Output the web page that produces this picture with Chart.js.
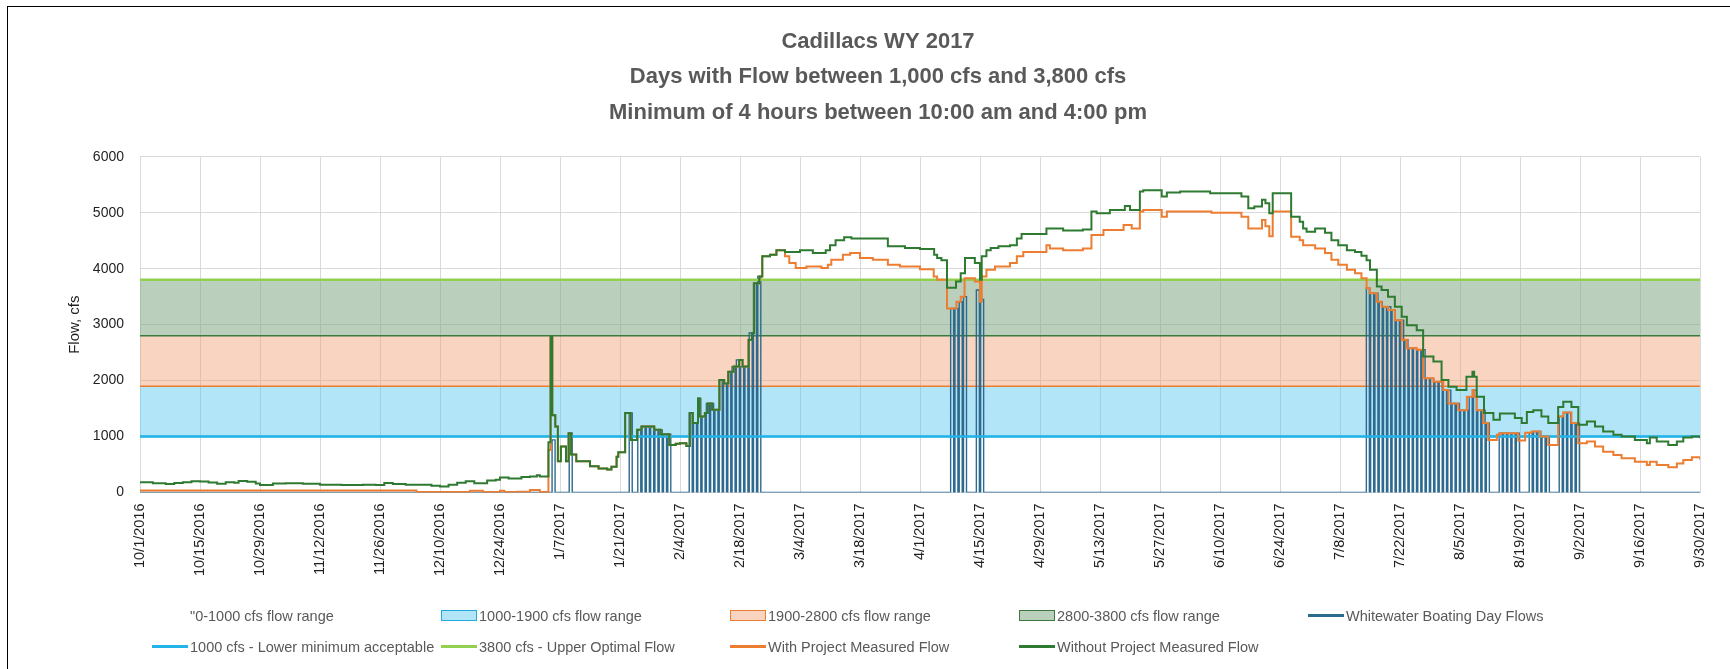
<!DOCTYPE html>
<html>
<head>
<meta charset="utf-8">
<script src="https://cdn.jsdelivr.net/npm/chart.js@4.4.1/dist/chart.umd.min.js"></script>
<style>
  html, body { margin: 0; padding: 0; background: #fff; }
  #wrap { position: relative; width: 1730px; height: 669px; overflow: hidden; }
  #frame { position: absolute; left: 7px; top: 6px; right: -5px; bottom: -5px;
           border-left: 1px solid #000; border-top: 1px solid #000; pointer-events: none; }
  #legend { position: absolute; left: 152px; top: 600px; display: grid;
            grid-template-columns: repeat(5, 289px);
            font: 14.5px 'Liberation Sans', Arial, sans-serif; color: #595959; }
  #legend .item { display: flex; align-items: center; height: 31px; white-space: nowrap; }
  #legend .sw { display: inline-block; width: 36px; margin-right: 2px; box-sizing: border-box; }
  #legend .box { height: 11px; border-width: 1.5px; border-style: solid; }
  #legend .line { height: 3px; }
</style>
</head>
<body>
<div id="wrap">
  <canvas id="flowChart" width="1730" height="669"></canvas>
  <div id="legend"></div>
  <div id="frame"></div>
</div>
<script>
// day 0 = 10/1/2016, last day 364 = 9/30/2017
const START = [2016, 10, 1];
const LAST_DAY = 364;
const TITLE_LINES = [
  'Cadillacs WY 2017',
  'Days with Flow between 1,000 cfs and 3,800 cfs',
  'Minimum of 4 hours between 10:00 am and 4:00 pm'
];

// flow range bands, cfs
const BAND_EDGES = [0, 1000, 1900, 2800, 3800];
const LOWER_MIN = 1000;
const UPPER_OPT = 3800;

// [day, cfs] - value holds until next step
const WITHOUT_PROJECT = [
  [0,185],[3,165],[6,150],[8,170],[10,185],[12,200],[14,195],[16,180],[18,155],[20,185],[22,175],[23,205],
  [25,190],[27,160],[28,135],[31,160],[34,165],[38,155],[42,140],[47,135],[52,140],[55,135],[57,170],[59,150],
  [62,140],[68,120],[70,105],[72,140],[74,175],[76,200],[78,165],[81,215],[83,230],[84,270],[86,250],[89,275],
  [91,285],[92.6,310],[93.3,285],[95.3,900],[95.8,2780],[96.2,1380],[96.9,1180],[97.5,560],[98.2,820],[99.4,560],
  [100,1060],[100.6,680],[101.8,560],[105,470],[107,430],[109,410],[110,460],[111.2,640],[111.6,720],[113.2,1420],
  [114.5,940],[116,1120],[117,1180],[120,1120],[121.5,1040],[123.5,850],[125,870],[126,880],[127.5,830],[128.3,1420],
  [129,1240],[130.2,1680],[130.6,1360],[131.8,1420],[132.5,1590],[133.5,1480],[135.2,2010],[136.3,1950],[137.3,2160],
  [138.5,2250],[139.8,2370],[140.6,2250],[142,2730],[142.8,2850],[143.3,3740],[144.5,3860],[145.2,4220],[147,4250],
  [148.5,4330],[150.5,4300],[154,4330],[157,4280],[160,4330],[161,4420],[162.3,4510],[164.3,4560],[166,4540],
  [174.5,4400],[178.5,4370],[182,4350],[185.3,4250],[186,4190],[187,4150],[188.3,3660],[190.4,3770],[191.5,3920],
  [192.5,4190],[194.8,4100],[196,3800],[196.4,4220],[197.5,4330],[198.5,4370],[200.3,4400],[203,4420],[204.6,4540],
  [205.7,4620],[211.5,4720],[215.4,4680],[220,4700],[222,5020],[223.2,4990],[226.3,5050],[229.8,5120],[231,5050],
  [233.3,5380],[234.1,5400],[238.4,5290],[239.6,5360],[242.7,5380],[249.7,5350],[257,5290],[258.6,5080],[260,5110],
  [261.8,5230],[262.6,5170],[263.5,4990],[264.3,5350],[268.6,4930],[270.6,4840],[271.4,4720],[272.2,4660],
  [274.2,4720],[276.5,4640],[278,4510],[279.6,4420],[281.6,4330],[283.5,4300],[285,4230],[286.2,4150],[287,3980],
  [288.6,3680],[289.7,3620],[291.2,3500],[292.8,3320],[294.4,3140],[295.6,2990],[297.9,2900],[299.4,2430],
  [301.8,2340],[303.7,2010],[305.3,1890],[307.2,1830],[309.5,2070],[310.9,2160],[311.3,2070],[311.9,1710],
  [313.6,1420],[315.8,1300],[317.3,1410],[320.8,1330],[322.4,1240],[323.6,1440],[325.1,1470],[327,1360],
  [328.6,1240],[330.9,1530],[332.1,1620],[334,1530],[335.6,1210],[337.6,1270],[339.5,1180],[341.4,1090],
  [343.8,1030],[345.7,1000],[348.8,940],[351.6,880],[352.3,985],[353.9,910],[356.6,850],[358.6,910],[360.1,985],
  [362.1,1000],[364,970]
];

const WITH_PROJECT = [
  [0,35],[64.5,8],[77,30],[80,8],[84,30],[85,8],[88,15],[91,45],[93.3,8],[95.3,760],[95.8,2780],[96.2,1380],
  [96.9,1180],[97.5,560],[98.2,820],[99.4,560],[100,1060],[100.6,680],[101.8,560],[105,470],[107,430],[109,410],
  [110,460],[111.2,640],[111.6,720],[113.2,1420],[114.5,940],[116,1120],[117,1180],[120,1120],[121.5,1040],
  [123.5,850],[125,870],[126,880],[127.5,830],[128.3,1420],[129,1240],[130.2,1680],[130.6,1360],[131.8,1420],
  [132.5,1590],[133.5,1480],[135.2,2010],[136.3,1950],[137.3,2160],[138.5,2250],[139.8,2370],[140.6,2250],
  [142,2730],[142.8,2850],[143.3,3740],[144.5,3860],[145.2,4220],[147,4250],[148.5,4330],[150.5,4220],
  [151.5,4100],[153,4010],[155.5,4040],[159,4010],[160.5,4070],[161.3,4160],[164,4250],[165.7,4280],[168,4190],
  [171,4160],[174.5,4070],[177.3,4040],[182,3990],[185.2,3860],[186,3800],[188.3,3290],[190.5,3410],[191.5,3500],
  [192.4,3830],[194.8,3770],[196,3410],[196.4,3860],[197.5,3980],[199.5,4040],[203,4100],[204.6,4220],[206.1,4300],
  [211.5,4420],[212.3,4360],[215.4,4330],[220,4360],[222,4600],[224.8,4690],[229.5,4780],[231.4,4720],[233.3,5020],
  [234.1,5050],[238.4,4930],[239.6,5020],[250,5000],[257,4930],[258.6,4720],[261.8,4870],[262.6,4760],[263.5,4580],
  [264.3,5020],[268.6,4570],[270.6,4510],[271.4,4420],[274.2,4360],[276.5,4280],[278,4160],[279.6,4070],
  [281.6,3980],[283.5,3920],[285,3830],[286.2,3650],[287,3560],[288.6,3410],[289.7,3320],[291.2,3260],[292.8,3080],
  [294.4,2730],[295.6,2580],[297.9,2550],[299.4,2040],[301.8,1980],[304.1,1830],[305.3,1590],[307.6,1470],
  [309.6,1710],[310.9,1830],[311.3,1710],[311.9,1470],[313.4,1240],[314.6,940],[316.6,1030],[317.3,1060],
  [321.6,930],[323.2,1070],[324.7,1090],[326.7,1000],[328.6,850],[330.9,1360],[332.1,1430],[334,1240],[335.6,880],
  [337.6,910],[339.5,820],[341.4,730],[343.8,670],[345.7,610],[348.8,550],[351.6,490],[352.3,550],[353.9,490],
  [356.6,450],[358.6,520],[360.1,580],[362.1,630],[364,590]
];

// whitewater boating days and the flow reached on each
const BOAT_DAYS = [96,100,114,116,117,118,119,120,121,122,123,
  128,129,130,131,132,133,134,135,136,137,138,139,140,141,142,143,144,
  189,190,191,192,195,196,
  286,287,288,289,290,291,292,293,294,295,296,297,298,299,300,301,302,303,304,305,306,307,308,309,310,311,312,313,314,
  317,318,319,320,321,324,325,326,327,328,331,332,333,334,335];
const BOAT_FLOW = [940,1060,1420,1120,1180,1180,1180,1120,1120,1040,1040,
  1420,1240,1680,1360,1590,1590,1480,2010,1950,2160,2250,2370,2250,2250,2850,3740,3860,
  3290,3290,3410,3500,3620,3450,
  3650,3560,3560,3410,3320,3320,3260,3080,3080,2730,2580,2580,2550,2550,2040,2040,1980,1980,1830,1830,1590,1590,1470,1470,1710,1830,1470,1470,1240,
  1060,1060,1060,1060,1060,1070,1090,1090,1000,1000,1360,1430,1430,1240,1240];

const FONT = "'Liberation Sans', Arial, sans-serif";
Chart.defaults.font.family = FONT;

function dayLabel(v) {
  const d = new Date(Date.UTC(START[0], START[1] - 1, START[2] + v));
  return (d.getUTCMonth() + 1) + '/' + d.getUTCDate() + '/' + d.getUTCFullYear();
}
function flat(y) { return [{ x: 0, y: y }, { x: LAST_DAY, y: y }]; }
function steps(list) { return list.map(p => ({ x: p[0], y: p[1] })); }
function boatPoints() {
  const pts = [{ x: 0, y: 0 }];
  BOAT_DAYS.forEach((d, i) => {
    pts.push({ x: d + 0.15, y: 0 }, { x: d + 0.15, y: BOAT_FLOW[i] },
             { x: d + 0.85, y: BOAT_FLOW[i] }, { x: d + 0.85, y: 0 });
  });
  pts.push({ x: LAST_DAY, y: 0 });
  return pts;
}

const lineBase = { pointRadius: 0, tension: 0, fill: false };

const datasets = [
  { ...lineBase, label: '"0-1000 cfs flow range', data: flat(BAND_EDGES[0]), borderWidth: 0,
    borderColor: 'rgba(0,0,0,0)', backgroundColor: 'rgba(0,0,0,0)', order: 9, swatch: 'none' },
  { ...lineBase, label: '1000-1900 cfs flow range', data: flat(BAND_EDGES[1]), fill: 2, borderWidth: 1.5,
    borderColor: '#1FA9DC', backgroundColor: 'rgba(80,195,240,0.44)', order: 8, swatch: 'box' },
  { ...lineBase, label: '1900-2800 cfs flow range', data: flat(BAND_EDGES[2]), fill: 3, borderWidth: 1.5,
    borderColor: '#ED7D31', backgroundColor: 'rgba(240,160,117,0.45)', order: 7, swatch: 'box' },
  { ...lineBase, label: '2800-3800 cfs flow range', data: flat(BAND_EDGES[3]), fill: 6, borderWidth: 1.5,
    borderColor: '#3B7A3C', backgroundColor: 'rgba(130,170,135,0.55)', order: 6, swatch: 'box' },
  { ...lineBase, label: 'Whitewater Boating Day Flows', data: boatPoints(), borderWidth: 1.4,
    borderColor: '#2D6A8F', backgroundColor: '#2D6A8F', order: 5, swatch: 'line' },
  { ...lineBase, label: '1000 cfs - Lower minimum acceptable', data: flat(LOWER_MIN), borderWidth: 2.5,
    borderColor: '#22B4E8', backgroundColor: '#22B4E8', order: 3, swatch: 'line' },
  { ...lineBase, label: '3800 cfs - Upper Optimal Flow', data: flat(UPPER_OPT), borderWidth: 2.5,
    borderColor: '#92D050', backgroundColor: '#92D050', order: 3, swatch: 'line' },
  { ...lineBase, label: 'With Project Measured Flow', data: steps(WITH_PROJECT), stepped: true, borderWidth: 2,
    borderColor: '#ED7D31', backgroundColor: '#ED7D31', order: 2, swatch: 'line' },
  { ...lineBase, label: 'Without Project Measured Flow', data: steps(WITHOUT_PROJECT), stepped: true, borderWidth: 2,
    borderColor: '#2F7A31', backgroundColor: '#2F7A31', order: 1, swatch: 'line' }
];

const chart = new Chart(document.getElementById('flowChart').getContext('2d'), {
  type: 'line',
  data: { datasets: datasets },
  options: {
    responsive: false,
    animation: false,
    layout: { padding: { left: 56, right: 30, top: 0, bottom: 0 } },
    plugins: {
      legend: { display: false },
      tooltip: { enabled: false },
      title: {
        display: true,
        text: TITLE_LINES,
        color: '#595959',
        font: { family: FONT, size: 22, weight: 'bold', lineHeight: 1.61 },
        padding: { top: 24, bottom: 26.5 }
      }
    },
    scales: {
      x: {
        type: 'linear', min: 0, max: LAST_DAY,
        afterFit: s => { s.height = 176.5; },
        grid: { color: '#D9D9D9', drawTicks: false },
        border: { display: false },
        ticks: { stepSize: 14, maxTicksLimit: 40, autoSkip: false, maxRotation: 90, minRotation: 90,
                 padding: 11, color: '#1f1f1f', font: { size: 14.5 }, callback: v => dayLabel(v) }
      },
      y: {
        min: 0, max: 6000,
        afterFit: s => { s.width = 84; },
        grid: { color: '#D9D9D9', drawTicks: false },
        border: { display: false },
        ticks: { stepSize: 1000, padding: 16, color: '#1f1f1f', font: { size: 14 }, callback: v => String(v) },
        title: { display: true, text: 'Flow, cfs', color: '#1f1f1f', font: { size: 15 }, padding: { top: 10, bottom: 0 } }
      }
    }
  }
});

// legend laid out as in the original: 5 columns, 2 rows
const legendEl = document.getElementById('legend');
chart.data.datasets.forEach(ds => {
  const item = document.createElement('div');
  item.className = 'item';
  const sw = document.createElement('span');
  sw.className = 'sw ' + (ds.swatch === 'box' ? 'box' : 'line');
  if (ds.swatch === 'box') {
    sw.style.background = ds.backgroundColor;
    sw.style.borderColor = ds.borderColor;
  } else if (ds.swatch === 'line') {
    sw.style.background = ds.borderColor;
  }
  const txt = document.createElement('span');
  txt.textContent = ds.label;
  item.appendChild(sw);
  item.appendChild(txt);
  legendEl.appendChild(item);
});
</script>
</body>
</html>
